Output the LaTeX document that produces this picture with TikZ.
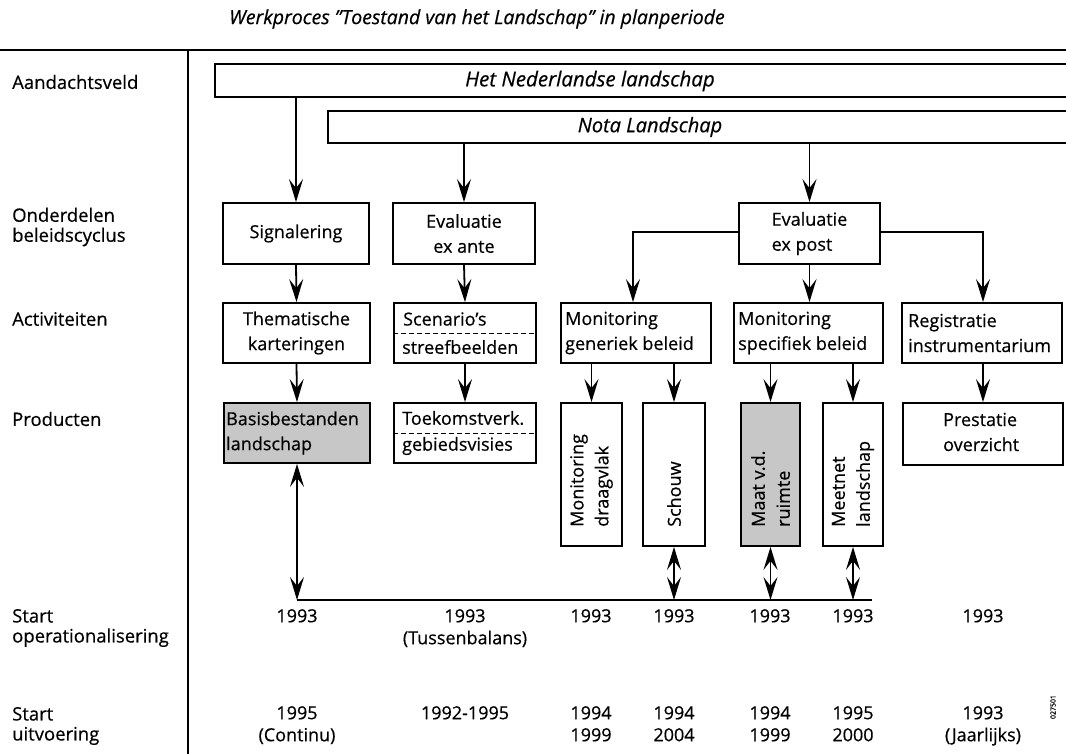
\documentclass[tikz,border=0pt]{standalone}
\usepackage{fontspec}
\setmainfont{Open Sans}[UprightFeatures={FakeBold=0.5},ItalicFeatures={FakeBold=0.5}]
\usetikzlibrary{arrows.meta}
\begin{document}
\begin{tikzpicture}[x=1pt,y=-1pt,
  lbl/.style={font=\fontsize{18.5}{20}\selectfont, anchor=west, align=left, inner sep=0},
  bx/.style={draw, line width=1.8pt, inner sep=0, font=\fontsize{18}{25}\selectfont, align=center},
  txt/.style={font=\fontsize{18}{25}\selectfont, inner sep=0},
  yr/.style={font=\fontsize{18}{22}\selectfont, inner sep=0, align=center, anchor=north},
  tip/.tip={Stealth[length=23pt,width=14pt,inset=9pt]},
  arr/.style={line width=1.8pt, -tip},
  darr/.style={line width=1.8pt, tip-tip},
  ln/.style={line width=1.8pt},
  shaded/.style={fill=black!22},
  dsh/.style={line width=1pt, dash pattern=on 5pt off 3pt},
]
\clip (0,0) rectangle (1066,754);
% title and frame
\node[font=\fontsize{19.5}{22}\selectfont\itshape, inner sep=0] (title) at (477,19) {Werkproces "Toestand van het Landschap" in planperiode};
\coordinate (tl) at (0,50); \coordinate (tr) at (1066,50);
\coordinate (vt) at (188,50); \coordinate (vb) at (188,754);
\draw[line width=2.2pt] (tl) -- (tr);
\draw[line width=1.6pt] (vt) -- (vb);

% left labels
\node[lbl] (l1) at (12,82) {Aandachtsveld};
\node[lbl] (l2) at (12,227) {Onderdelen\\beleidscyclus};
\node[lbl] (l3) at (12,319) {Activiteiten};
\node[lbl] (l4) at (12,419) {Producten};
\node[lbl] (l5) at (12,628) {Start\\operationalisering};
\node[lbl] (l6) at (12,726) {Start\\uitvoering};

% top bands
\node[bx, minimum width=856pt, minimum height=33pt] (ned) at (643,80.5) {};
\node[txt, font=\fontsize{20.5}{22}\selectfont\itshape] (nedt) at (590,81) {Het Nederlandse landschap};
\node[bx, minimum width=744pt, minimum height=32pt] (nota) at (700,127) {};
\node[txt, font=\fontsize{20}{22}\selectfont\itshape] (notat) at (650,127) {Nota Landschap};

% row 2
\node[bx, minimum width=146pt, minimum height=61pt] (sig) at (296,233.5) {Signalering};
\node[bx, minimum width=142pt, minimum height=61pt] (exa) at (464,233.5) {Evaluatie\\ex ante};
\node[bx, minimum width=141pt, minimum height=61pt, align=left] (exp) at (809.5,233.5) {Evaluatie\\ex post};

% row 3
\node[bx, minimum width=147pt, minimum height=60pt] (them) at (296.5,333) {Thematische\\karteringen};
\node[bx, minimum width=142pt, minimum height=60pt] (scen) at (465,333) {};
\node[txt, anchor=west] (scen1) at (403,319) {Scenario's};
\node[txt, anchor=west] (scen2) at (402,347) {streefbeelden};
\draw[dsh] (scen.west) -- (scen.east);
\node[bx, minimum width=150pt, minimum height=60pt] (mgen) at (636,333) {};
\node[txt, anchor=west, align=left] (mgent) at (565,333) {Monitoring\\generiek beleid};
\node[bx, minimum width=149pt, minimum height=60pt] (mspec) at (808.5,333) {};
\node[txt, anchor=west, align=left] (mspect) at (738,333) {Monitoring\\specifiek beleid};
\node[bx, minimum width=160pt, minimum height=60pt] (reg) at (982,333) {};
\node[txt, anchor=west, align=left] (regt) at (908,333) {Registratie\\instrumentarium};

% row 4
\node[bx, shaded, minimum width=146pt, minimum height=60pt] (basis) at (297,433) {};
\node[txt, anchor=west, align=left] (basist) at (226,433) {Basisbestanden\\landschap};
\node[bx, minimum width=142pt, minimum height=60pt] (toek) at (465,433) {};
\node[txt, anchor=west] (toek1) at (402,418) {Toekomstverk.};
\node[txt, anchor=west] (toek2) at (402,446) {gebiedsvisies};
\draw[dsh] (toek.west) -- (toek.east);
\node[bx, minimum width=160pt, minimum height=62pt] (prest) at (983,434) {};
\node[txt, anchor=west, align=left] (prestt) at (943,432) {Prestatie\\overzicht};

% vertical product boxes
\node[bx, minimum width=61pt, minimum height=143pt] (drag) at (591.5,474.5) {};
\node[txt, rotate=90, anchor=west, align=left] (dragt) at (591.5,527) {Monitoring\\draagvlak};
\node[bx, minimum width=62pt, minimum height=143pt] (schouw) at (674,474.5) {};
\node[txt, rotate=90, anchor=west, align=left] (schouwt) at (674,527) {Schouw};
\node[bx, shaded, minimum width=59pt, minimum height=143pt] (maat) at (770.5,474.5) {};
\node[txt, rotate=90, anchor=west, align=left] (maatt) at (770.5,527) {Maat v.d.\\ruimte};
\node[bx, minimum width=60pt, minimum height=143pt] (meet) at (853,474.5) {};
\node[txt, rotate=90, anchor=west, align=left] (meett) at (853,527) {Meetnet\\landschap};

% arrows from top bands
\draw[arr] (sig.north |- ned.south) -- (sig.north);
\draw[arr] (exa.north |- nota.south) -- (exa.north);
\draw[arr] (exp.north |- nota.south) -- (exp.north);

% row 2 -> row 3
\draw[arr] (sig.south) -- (them.north);
\draw[arr] (exa.south) -- (scen.north);
\draw[arr] (exp.south) -- (exp.south |- mspec.north);
\coordinate (bl1) at (633,232);
\coordinate (br1) at (983,232);
\draw[arr] (exp.west |- bl1) -- (bl1) -- (bl1 |- mgen.north);
\draw[arr] (exp.east |- br1) -- (br1) -- (br1 |- reg.north);

% row 3 -> row 4
\draw[arr] (them.south) -- (basis.north);
\draw[arr] (scen.south) -- (toek.north);
\draw[arr] (mgen.south -| drag.north) -- (drag.north);
\draw[arr] (mgen.south -| schouw.north) -- (schouw.north);
\draw[arr] (mspec.south -| maat.north) -- (maat.north);
\draw[arr] (mspec.south -| meet.north) -- (meet.north);
\draw[arr] (reg.south -| prest.north) -- (prest.north);

% bottom line and double arrows
\coordinate (bl) at (297,600);
\coordinate (br) at (872,600);
\draw[ln] (bl) -- (br);
\draw[darr] (basis.south) -- (basis.south |- bl);
\draw[darr] (schouw.south) -- (schouw.south |- bl);
\draw[darr] (maat.south) -- (maat.south |- bl);
\draw[darr] (meet.south) -- (meet.south |- bl);

% years: start operationalisering
\node[yr] (o1) at (297,609) {1993};
\node[yr] (o2) at (465,609) {1993\\(Tussenbalans)};
\node[yr] (o3) at (591,609) {1993};
\node[yr] (o4) at (674,609) {1993};
\node[yr] (o5) at (770,609) {1993};
\node[yr] (o6) at (853,609) {1993};
\node[yr] (o7) at (983,609) {1993};
% years: start uitvoering
\node[yr] (u1) at (297,706) {1995\\(Continu)};
\node[yr] (u2) at (465,706) {1992-1995};
\node[yr] (u3) at (591,706) {1994\\1999};
\node[yr] (u4) at (674,706) {1994\\2004};
\node[yr] (u5) at (770,706) {1994\\1999};
\node[yr] (u6) at (853,706) {1995\\2000};
\node[yr] (u7) at (983,706) {1993\\(Jaarlijks)};

\node[font=\fontsize{7}{8}\selectfont, rotate=90, inner sep=0] (code) at (1053,707) {027501};
\end{tikzpicture}
\end{document}
